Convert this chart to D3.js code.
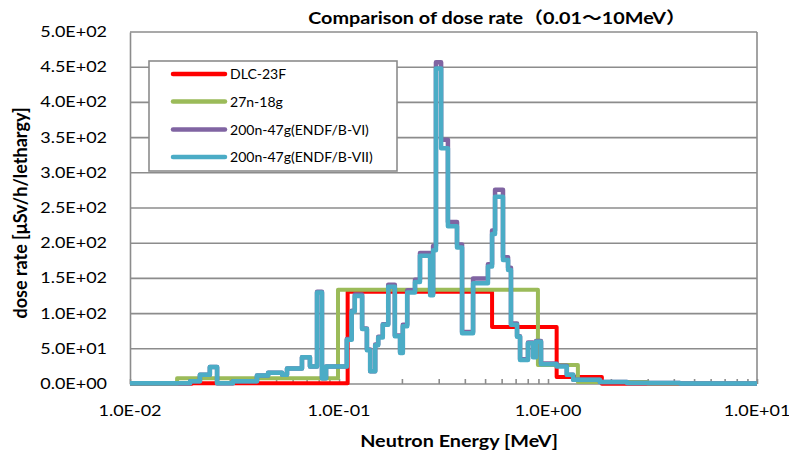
<!DOCTYPE html>
<html><head><meta charset="utf-8">
<script src="https://cdn.jsdelivr.net/npm/d3@7"></script>
<style>body{margin:0;background:#fff}svg{display:block}</style>
</head><body><div id="chart"></div>
<script>
// ---- data ----
const yTicks = [0,50,100,150,200,250,300,350,400,450,500];
const xTicks = [0.01,0.1,1,10];
const seriesNames = ["DLC-23F","27n-18g","200n-47g(ENDF/B-VI)","200n-47g(ENDF/B-VII)"];
const seriesColors = ["#FF0000","#9BBB59","#8064A2","#4BACC6"];

// DLC-23F group boundaries (MeV) and values
const dlcE = [0.01,0.0198,0.110,0.54,1.10,1.81,10];
const dlcV = [0.5,1,131,81,10,0.5];
// 27n-18g
const g27E = [0.01,0.0168,0.0989,0.895,1.39,3.0,10];
const g27V = [0.5,8,134,27,3,0.8];
// 200n-47g boundaries
const g47E = [0.01,0.0194,0.0216,0.0241,0.0261,0.0311,0.0405,0.0458,0.0534,0.0564,0.0665,0.0726,0.0785,0.0829,0.0867,
  0.109,0.115,0.119,0.129,0.136,0.141,0.149,0.154,0.162,0.172,0.185,0.196,0.202,0.212,0.231,0.244,0.273,0.282,
  0.291,0.308,0.332,0.367,0.388,0.438,0.516,0.540,0.558,0.609,0.644,0.665,0.711,0.735,0.802,0.848,0.876,0.926,
  1.10,1.23,1.32,1.77,2.39,4.28,10];
const b7V = [1,4,13,24,1,4,12,16,13,22,38,25,130,8,25,
  63,103,125,78,48,18,55,66,84,138,68,44,82,130,145,182,126,190,
  448,335,224,194,72,143,167,213,266,176,162,84,67,34,58,38,60,28,
  25,13,6,3,1.5,0.8];
const b6V = [1,4,13,24,1,4,12,16,13,22,38,25,131,8,25,
  64,104,127,79,49,18,56,67,85,141,69,45,84,133,148,186,128,196,
  457,347,230,198,74,150,170,218,276,180,165,86,68,35,59,39,61,29,
  26,13,6,3,1.5,0.8];

// ---- layout ----
const W=789,H=451;
const L=130,R=757,T=32,B=384;
const FONT="Lato, 'Noto Sans CJK JP', sans-serif";

const svg=d3.select("#chart").append("svg").attr("width",W).attr("height",H);
const x=d3.scaleLog().domain([0.01,10]).range([L,R]);
const y=d3.scaleLinear().domain([0,500]).range([B,T]);

function txt(px,py,s,size,weight,anchor,sx,rot){
  let tr=`translate(${px},${py})`;
  if(rot) tr+=` rotate(${rot}) scale(1,${sx})`; else tr+=` scale(${sx},1)`;
  const g=svg.append("g").attr("transform",tr);
  return g.append("text").text(s).attr("font-family",FONT).attr("font-size",size)
   .attr("font-weight",weight||"normal").attr("text-anchor",anchor||"start").attr("fill","#000");
}

// gridlines
svg.append("g").selectAll("line").data(yTicks.filter(d=>d>0)).join("line")
  .attr("x1",L).attr("x2",R).attr("y1",d=>y(d)).attr("y2",d=>y(d))
  .attr("stroke","#8c8c8c").attr("stroke-width",1.6);
// right border
svg.append("line").attr("x1",R).attr("x2",R).attr("y1",T).attr("y2",B).attr("stroke","#8c8c8c").attr("stroke-width",1.6);

// x axis (ticks inward)
const xAxis=d3.axisTop(x).tickValues(d3.range(-2,1).flatMap(p=>d3.range(1,10).map(k=>k*Math.pow(10,p))).concat([10]))
  .tickSize(5).tickFormat("");
const gx=svg.append("g").attr("transform",`translate(0,${B})`).call(xAxis);
gx.selectAll("line,path").attr("stroke","#8c8c8c").attr("stroke-width",1.6);
gx.select("path").attr("d",`M${L},0H${R}`);
// y axis line
const gy=svg.append("g").attr("transform",`translate(${L},0)`).call(d3.axisLeft(y).tickValues(yTicks).tickSize(0).tickFormat(""));
gy.select("path").attr("stroke","#8c8c8c").attr("stroke-width",1.6);

// tick labels
const fmt=v=>v.toExponential(1).replace("e","E").replace(/E([+-])(\d)$/,"E$10$2");
yTicks.forEach(v=>txt(107,y(v)+5,fmt(v),15,"normal","end",1.2));
xTicks.forEach(v=>txt(x(v),416,fmt(v),15,"normal","middle",1.2));

// titles
txt(497,24,"Comparison of dose rate（0.01～10MeV）",16.5,"bold","middle",1.2);
txt(459,447,"Neutron Energy [MeV]",16.5,"bold","middle",1.2);
txt(27,213,"dose rate [μSv/h/lethargy]",18,"bold","middle",1,-90);

// series
function stepData(E,V){ return E.map((e,i)=>[e, i<V.length?V[i]:V[V.length-1]]); }
const line=d3.line().x(d=>x(d[0])).y(d=>y(d[1])).curve(d3.curveStepAfter);
const all=[stepData(dlcE,dlcV),stepData(g27E,g27V),stepData(g47E,b6V),stepData(g47E,b7V)];
const widths=[4,4,4.5,4.5];
all.forEach((d,i)=>{
  svg.append("path").datum(d).attr("d",line).attr("fill","none")
    .attr("stroke",seriesColors[i]).attr("stroke-width",widths[i]).attr("stroke-linejoin","round");
});

// legend
svg.append("rect").attr("x",149).attr("y",61).attr("width",248).attr("height",110)
  .attr("fill","#fff").attr("stroke","#8c8c8c").attr("stroke-width",1.6);
const rowsY=[74,101.5,129.5,157];
seriesNames.forEach((n,i)=>{
  svg.append("line").attr("x1",173).attr("x2",225).attr("y1",rowsY[i]).attr("y2",rowsY[i])
    .attr("stroke",seriesColors[i]).attr("stroke-width",4.5).attr("stroke-linecap","round");
  txt(230,rowsY[i]+5,n,13,"normal","start",1.08);
});
</script></body></html>
